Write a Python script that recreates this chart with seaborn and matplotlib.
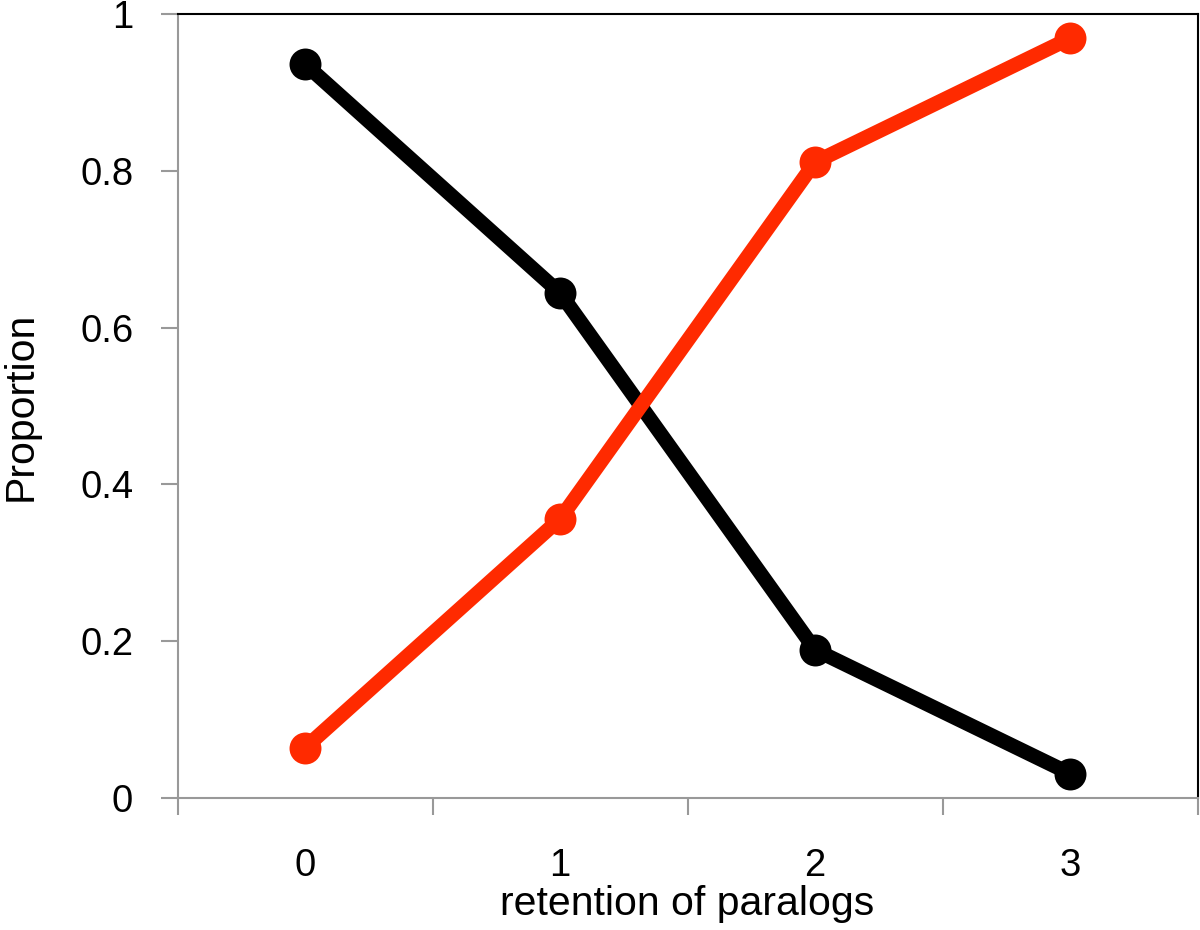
import matplotlib
matplotlib.use("Agg")
import matplotlib.pyplot as plt
import seaborn as sns
import pandas as pd

# data
retention = [0, 1, 2, 3]
black_vals = [0.936, 0.644, 0.189, 0.031]
red_vals = [0.064, 0.356, 0.811, 0.969]
ytick_vals = [0, 0.2, 0.4, 0.6, 0.8, 1]
ytick_labels = ["0", "0.2", "0.4", "0.6", "0.8", "1"]

df = pd.DataFrame({
    "retention": retention * 2,
    "Proportion": black_vals + red_vals,
    "series": ["black"] * 4 + ["red"] * 4,
})

sns.set_style("white")
plt.rcParams['font.family'] = ['Liberation Sans', 'DejaVu Sans']
plt.rcParams['text.color'] = 'black'
plt.rcParams['axes.labelcolor'] = 'black'
plt.rcParams['xtick.color'] = 'black'
plt.rcParams['ytick.color'] = 'black'

fig = plt.figure(figsize=(12, 9.3), dpi=100)
ax = fig.add_axes([0.148, 0.142, 0.85, 0.843])

sns.lineplot(data=df, x="retention", y="Proportion", hue="series",
             palette={"black": "#000000", "red": "#ff2a00"},
             linewidth=10.5, marker="o", markersize=23, markeredgewidth=0,
             legend=False, ax=ax)

ax.set_xlim(-0.5, 3.5)
ax.set_ylim(0, 1)

ax.set_xticks([-0.5, 0.5, 1.5, 2.5, 3.5])
ax.set_xticklabels([])
ax.set_xticks(retention, minor=True)
ax.set_xticklabels([str(r) for r in retention], minor=True)
ax.tick_params(axis="x", which="major", direction="out", length=12,
               width=1.5, color="#999999", bottom=True)
ax.tick_params(axis="x", which="minor", length=0, pad=36, labelsize=27.5,
               labelcolor="black")

ax.set_yticks(ytick_vals)
ax.set_yticklabels(ytick_labels)
ax.tick_params(axis="y", direction="out", length=12, width=1.5,
               color="#999999", left=True, labelsize=27.5, pad=20,
               labelcolor="black")

for s in ["left", "bottom"]:
    ax.spines[s].set_color("#999999")
    ax.spines[s].set_linewidth(1.5)
for s in ["top", "right"]:
    ax.spines[s].set_color("#000000")
    ax.spines[s].set_linewidth(1.5)

ax.set_xlabel("retention of paralogs", fontsize=29.5, labelpad=1)
ax.set_ylabel("Proportion", fontsize=29.5, labelpad=29)

fig.savefig("out.png", dpi=100)
